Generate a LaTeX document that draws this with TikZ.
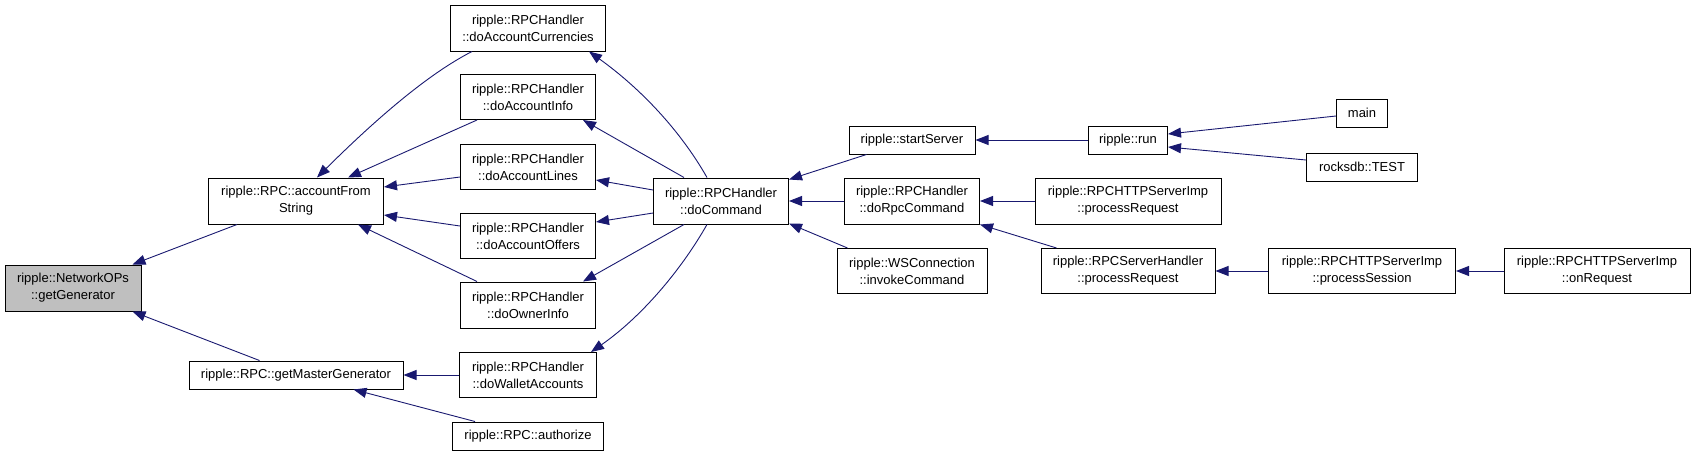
\documentclass[tikz,border=0pt]{standalone}
\usepackage{fontspec}
\setmainfont{Liberation Sans}
\usetikzlibrary{arrows.meta,calc}
\definecolor{edgecol}{HTML}{191970}
\definecolor{focusfill}{HTML}{BFBFBF}
\begin{document}
\begin{tikzpicture}[x=1pt,y=-1pt,
  box/.style={draw=black,line width=1pt,fill=white,inner sep=0pt,align=center,
    font=\fontsize{13}{17}\selectfont},
  edge/.style={draw=edgecol,line width=0.9pt,{Triangle[length=13pt,width=10pt]}-}]
\useasboundingbox (0,0) rectangle (1696,456);
% nodes
\node[box,fill=focusfill,minimum width=136pt,minimum height=46pt] (gen) at (73,288) {ripple::NetworkOPs\\::getGenerator};
\node[box,minimum width=175pt,minimum height=46pt] (acc) at (296,201) {ripple::RPC::accountFrom\\String};
\node[box,minimum width=214pt,minimum height=28pt] (gmg) at (296,375) {ripple::RPC::getMasterGenerator};
\node[box,minimum width=155pt,minimum height=46pt] (cur) at (528,28) {ripple::RPCHandler\\::doAccountCurrencies};
\node[box,minimum width=135pt,minimum height=45pt] (info) at (528,97) {ripple::RPCHandler\\::doAccountInfo};
\node[box,minimum width=135pt,minimum height=45pt] (lines) at (528,167) {ripple::RPCHandler\\::doAccountLines};
\node[box,minimum width=135pt,minimum height=45pt] (offers) at (528,236) {ripple::RPCHandler\\::doAccountOffers};
\node[box,minimum width=135pt,minimum height=46pt] (owner) at (528,305) {ripple::RPCHandler\\::doOwnerInfo};
\node[box,minimum width=137pt,minimum height=45pt] (wallet) at (528,375) {ripple::RPCHandler\\::doWalletAccounts};
\node[box,minimum width=151pt,minimum height=28pt] (auth) at (528,436) {ripple::RPC::authorize};
\node[box,minimum width=135pt,minimum height=46pt] (cmd) at (721,201) {ripple::RPCHandler\\::doCommand};
\node[box,minimum width=126pt,minimum height=28pt] (start) at (912,140) {ripple::startServer};
\node[box,minimum width=135pt,minimum height=46pt] (rpccmd) at (912,201) {ripple::RPCHandler\\::doRpcCommand};
\node[box,minimum width=150pt,minimum height=45pt] (ws) at (912,271) {ripple::WSConnection\\::invokeCommand};
\node[box,minimum width=79pt,minimum height=28pt] (run) at (1128,140) {ripple::run};
\node[box,minimum width=186pt,minimum height=46pt] (hproc) at (1128,201) {ripple::RPCHTTPServerImp\\::processRequest};
\node[box,minimum width=174pt,minimum height=45pt] (sproc) at (1128,271) {ripple::RPCServerHandler\\::processRequest};
\node[box,minimum width=51pt,minimum height=28pt] (main) at (1362,113) {main};
\node[box,minimum width=111pt,minimum height=28pt] (test) at (1362,167) {rocksdb::TEST};
\node[box,minimum width=187pt,minimum height=45pt] (sess) at (1362,271) {ripple::RPCHTTPServerImp\\::processSession};
\node[box,minimum width=186pt,minimum height=45pt] (onreq) at (1597,271) {ripple::RPCHTTPServerImp\\::onRequest};
% edges (arrow tip at the first point)
\draw[edge] ($(gen.north east)+(-9,0)$) -- ($(acc.south west)+(29,0)$);
\draw[edge] ($(gen.south east)+(-9,0)$) -- ($(gmg.north west)+(71,0)$);
\draw[edge] ($(acc.north)+(21,0)$) .. controls (360,135) and (420,78) .. ($(cur.south west)+(22,0)$);
\draw[edge] ($(acc.north east)+(-36,0)$) -- ($(info.south west)+(17,0)$);
\draw[edge] ($(acc.east)+(0,-14)$) -- ($(lines.west)+(0,10)$);
\draw[edge] ($(acc.east)+(0,14)$) -- ($(offers.west)+(0,-10)$);
\draw[edge] ($(acc.south east)+(-26,0)$) -- ($(owner.north west)+(17,0)$);
\draw[edge] (gmg.east) -- (wallet.west);
\draw[edge] ($(gmg.south east)+(-50,0)$) -- ($(auth.north west)+(23,0)$);
\draw[edge] ($(cur.south east)+(-17,0)$) .. controls (640,88) and (680,130) .. ($(cmd.north)+(-14,0)$);
\draw[edge] ($(info.south east)+(-13,0)$) -- ($(cmd.north west)+(31,0)$);
\draw[edge] ($(lines.east)+(0,13)$) -- ($(cmd.west)+(0,-11)$);
\draw[edge] ($(offers.east)+(0,-14)$) -- ($(cmd.west)+(0,12)$);
\draw[edge] ($(owner.north east)+(-13,0)$) -- ($(cmd.south west)+(31,0)$);
\draw[edge] ($(wallet.north east)+(-6,0)$) .. controls (640,318) and (680,272) .. ($(cmd.south)+(-14,0)$);
\draw[edge] ($(cmd.north east)+(0,2)$) -- ($(start.south west)+(18,0)$);
\draw[edge] (cmd.east) -- (rpccmd.west);
\draw[edge] ($(cmd.south east)+(0,-1)$) -- ($(ws.north west)+(11,0)$);
\draw[edge] (start.east) -- (run.west);
\draw[edge] (rpccmd.east) -- (hproc.west);
\draw[edge] (rpccmd.south east) -- ($(sproc.north west)+(16,0)$);
\draw[edge] ($(run.east)+(0,-6)$) -- ($(main.west)+(0,3)$);
\draw[edge] ($(run.east)+(0,7)$) -- ($(test.west)+(0,-7)$);
\draw[edge] (sproc.east) -- (sess.west);
\draw[edge] (sess.east) -- (onreq.west);
\end{tikzpicture}
\end{document}
